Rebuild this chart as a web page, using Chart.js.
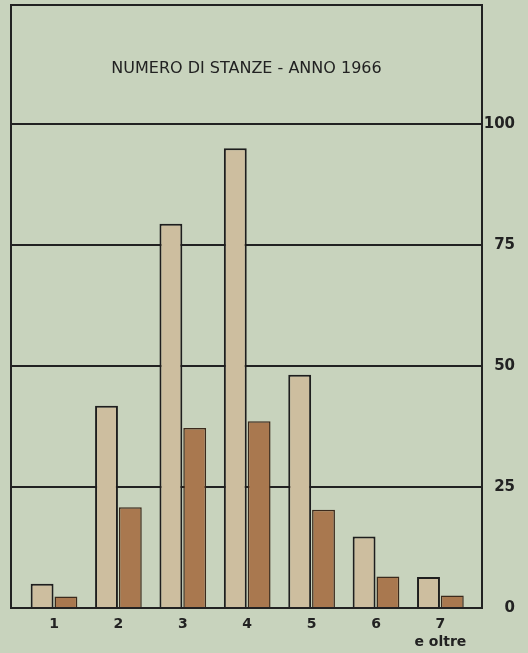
<!DOCTYPE html>
<html>
<head>
<meta charset="utf-8">
<script src="https://cdn.jsdelivr.net/npm/chart.js@4/dist/chart.umd.min.js"></script>
<style>
  body { margin: 0; background: #c8d3bd; }
  canvas { display: block; }
</style>
</head>
<body>
<canvas id="myChart" width="528" height="653"></canvas>
<script>
// Numero di stanze - anno 1966

var titleText = "NUMERO DI STANZE - ANNO 1966";
var rooms = [1, 2, 3, 4, 5, 6, 7];
var roomLabels = ["1", "2", "3", "4", "5", "6", ["7", "e oltre"]];
var lightValues = [5, 41.8, 79.4, 95, 48.2, 14.8, 6.4];
var darkValues = [2.4, 20.8, 37.2, 38.6, 20.3, 6.5, 2.6];
var yTicks = [0, 25, 50, 75, 100];

var ink = "#222";

function toPoints(values) {
  var pts = [];
  for (var i = 0; i < rooms.length; i++) {
    pts.push({ x: rooms[i], y: values[i] });
  }
  return pts;
}

// background, outer frame and title box text
var framePlugin = {
  id: "frame",
  beforeDraw: function (chart) {
    var c = chart.ctx;
    c.save();
    c.fillStyle = "#c8d3bd";
    c.fillRect(0, 0, chart.width, chart.height);
    c.restore();
  },
  afterDatasetsDraw: function (chart) {
    var c = chart.ctx;
    var a = chart.chartArea;
    c.save();
    c.strokeStyle = ink;
    c.lineWidth = 2;
    c.strokeRect(a.left, a.top, a.right - a.left, a.bottom - a.top);
    c.fillStyle = ink;
    c.font = "16px 'DejaVu Sans'";
    c.textAlign = "center";
    c.textBaseline = "middle";
    c.fillText(titleText, (a.left + a.right) / 2, 69);
    c.restore();
  }
};

var ctx = document.getElementById("myChart").getContext("2d");
var chart = new Chart(ctx, {
  type: "bar",
  data: {
    datasets: [{
      label: "chiaro",
      data: toPoints(lightValues),
      backgroundColor: "#cdbe9f",
      borderColor: "#1e1e1e",
      borderWidth: 2,
      borderSkipped: "bottom"
    }, {
      label: "scuro",
      data: toPoints(darkValues),
      backgroundColor: "#a9784f",
      borderColor: "#3b2a1c",
      borderWidth: 1.5,
      borderSkipped: "bottom"
    }]
  },
  options: {
    responsive: false,
    animation: false,
    categoryPercentage: 0.74,
    barPercentage: 0.96,
    layout: { padding: { left: 11, top: 5, right: 13, bottom: 0 } },
    plugins: {
      legend: { display: false },
      tooltip: { enabled: false }
    },
    scales: {
      x: {
        type: "linear",
        offset: false,
        min: 0.332,
        max: 7.646,
        grid: { display: false, drawTicks: false, offset: false },
        border: { display: false },
        afterBuildTicks: function (scale) {
          scale.ticks = rooms.map(function (r) { return { value: r }; });
        },
        afterFit: function (scale) {
          scale.height = 45;
          scale.paddingLeft = 0;
          scale.paddingRight = 0;
        },
        ticks: {
          autoSkip: false,
          maxRotation: 0,
          padding: 7,
          color: ink,
          font: { family: "DejaVu Sans", size: 14, weight: "bold", lineHeight: 1.3 },
          callback: function (value) { return roomLabels[value - 1]; }
        }
      },
      y: {
        position: "right",
        min: 0,
        max: 124.6,
        grid: { color: ink, lineWidth: 2, drawTicks: false },
        border: { display: false },
        afterBuildTicks: function (scale) {
          scale.ticks = yTicks.map(function (v) { return { value: v }; });
        },
        afterFit: function (scale) {
          scale.width = 33;
          scale.paddingTop = 0;
          scale.paddingBottom = 0;
        },
        ticks: {
          crossAlign: "far",
          padding: 2,
          color: ink,
          font: { family: "DejaVu Sans", size: 15, weight: "bold" }
        }
      }
    }
  },
  plugins: [framePlugin]
});
</script>
</body>
</html>
